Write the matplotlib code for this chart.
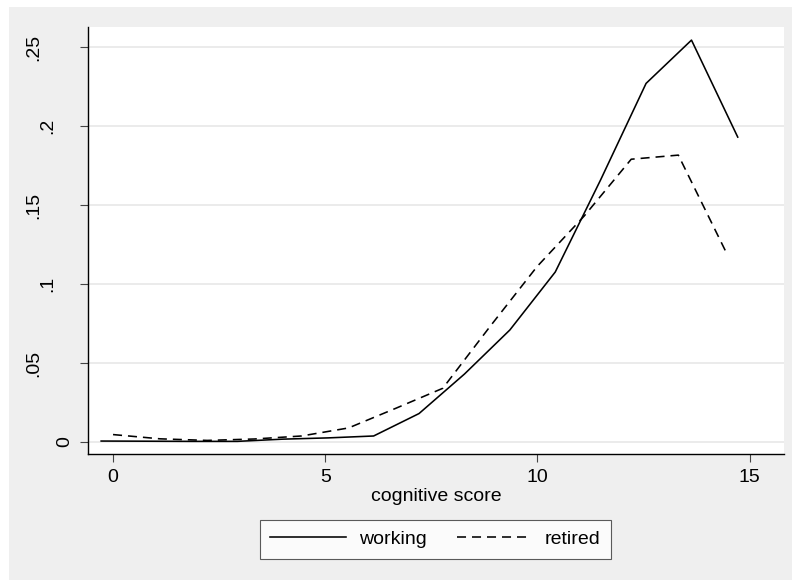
import numpy as np
import matplotlib.pyplot as plt
from matplotlib.patches import Rectangle

plt.rcParams['font.family'] = ['Liberation Sans', 'DejaVu Sans']
plt.rcParams['lines.scale_dashes'] = False

# cognitive score vs share
work_x = [-0.28, 0.79, 1.86, 2.93, 4.0, 5.07, 6.14, 7.21, 8.28, 9.35, 10.42, 11.49, 12.56, 13.63, 14.72]
work_y = [0.0006, 0.0005, 0.0004, 0.0004, 0.0018, 0.0026, 0.0038, 0.018, 0.043, 0.0709, 0.1076, 0.166, 0.227, 0.2544, 0.193]

ret_x = [0.0, 1.11, 2.22, 3.33, 4.44, 5.55, 6.66, 7.77, 8.88, 9.99, 11.1, 12.21, 13.32, 14.43]
ret_y = [0.0047, 0.002, 0.001, 0.0019, 0.0038, 0.0089, 0.0213, 0.034, 0.073, 0.111, 0.143, 0.179, 0.1816, 0.121]

xticks = [0, 5, 10, 15]
yticks = [0, 0.05, 0.1, 0.15, 0.2, 0.25]
ylabels = ['0', '.05', '.1', '.15', '.2', '.25']
series_names = ['working', 'retired']

fig = plt.figure(figsize=(7.92, 5.8), dpi=100)
fig.patch.set_facecolor('white')
fig.patches.append(Rectangle((9 / 792, 0), 1 - 9 / 792, 1 - 7 / 580,
                             transform=fig.transFigure, facecolor='#efefef',
                             edgecolor='none', zorder=-10))

ax = fig.add_axes([88 / 792, 1 - 454 / 580, (784 - 88) / 792, (454 - 27) / 580])
ax.set_facecolor('white')

ax.plot(work_x, work_y, color='black', lw=1.15, label=series_names[0])
ax.plot(ret_x, ret_y, color='black', lw=1.15, dashes=(6.5, 4.3), label=series_names[1])

ax.set_xlim(-0.59, 15.81)
ax.set_ylim(-0.0076, 0.2627)

for v in yticks:
    ax.axhline(v, color='#e6e6e6', lw=1.1, zorder=0)

ax.set_xticks(xticks)
ax.set_xticklabels([str(t) for t in xticks], fontsize=14)
ax.set_yticks(yticks)
ax.set_yticklabels([])
ax.tick_params(axis='both', direction='out', length=6, width=0.8, color='#444444')
ax.tick_params(axis='x', pad=5)

# stata-style rotated y labels, offset depends on label length
offs = {1: 23.5, 2: 40, 3: 54}
for v, lab in zip(yticks, ylabels):
    ax.annotate(lab, xy=(0, v), xycoords=('axes fraction', 'data'),
                xytext=(-offs[len(lab)] * 0.72, 0), textcoords='offset points',
                rotation=90, ha='center', va='center', fontsize=14)

for s in ['top', 'right']:
    ax.spines[s].set_visible(False)
for s in ['left', 'bottom']:
    ax.spines[s].set_linewidth(1.0)

ax.set_xlabel('cognitive score', fontsize=14, labelpad=1)

leg = fig.legend(loc='center', bbox_to_anchor=(435.5 / 792, 1 - 539 / 580), ncol=2,
                 fontsize=14, handlelength=3.9, handletextpad=0.65, columnspacing=1.55,
                 frameon=True, fancybox=False, borderpad=0.55)
leg.get_frame().set_edgecolor('#333333')
leg.get_frame().set_linewidth(0.8)
leg.get_frame().set_facecolor('white')

fig.savefig('out.png', dpi=100)
